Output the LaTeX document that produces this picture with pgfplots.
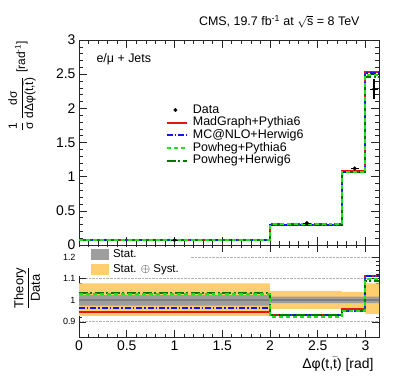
\documentclass[border=0pt]{standalone}
\usepackage{pgfplots}
\pgfplotsset{compat=1.18}
\usepackage{amsmath}
\usepackage{fontspec}
\setmainfont{Liberation Sans}
\definecolor{mgred}{RGB}{230,20,20}
\definecolor{mcblue}{RGB}{20,20,250}
\definecolor{ppgreen}{RGB}{30,225,30}
\definecolor{phgreen}{RGB}{0,120,0}
\definecolor{syst}{RGB}{255,206,110}
\definecolor{statgray}{RGB}{158,158,158}
\definecolor{statline}{RGB}{125,125,125}
\pgfplotsset{
  myline/.style={legend image code/.code={\draw[##1] (0bp,0bp) -- (20bp,0bp);}},
  mybox/.style={legend image code/.code={\fill[##1] (0bp,-5bp) rectangle (17bp,5bp);}},
  common/.style={
    scale only axis, width=300bp, xmin=0, xmax=3.14159,
    tick align=inside, tick pos=both,
    xtick={0,0.5,1,1.5,2,2.5,3}, minor x tick num=4,
    major tick length=8bp, minor tick length=4bp,
    axis line style={line width=0.7pt, black!85},
    every tick/.style={black!85, line width=0.6pt},
    /pgf/number format/assume math mode=true,
  },
  redline/.style={draw=mgred, color=mgred, line width=2bp, solid},
  blueline/.style={draw=mcblue, color=mcblue, line width=2bp, dash pattern=on 6pt off 2pt on 1.5pt off 2pt},
  lgreenline/.style={draw=ppgreen, color=ppgreen, line width=2bp, dash pattern=on 4pt off 3pt},
  dgreenline/.style={draw=phgreen, color=phgreen, line width=2bp, dash pattern=on 9pt off 2.5pt on 2pt off 2.5pt},
}
\begin{document}
\begin{tikzpicture}
\path[use as bounding box] (-79bp,-46bp) rectangle (320bp,337bp);

% ---------------- top panel ----------------
\begin{axis}[common,
  at={(0bp,92bp)}, anchor=south west, height=205bp,
  ymin=0, ymax=3, ytick={0,0.5,1,1.5,2,2.5,3}, minor y tick num=4,
  xticklabels={},
  yticklabel style={font=\fontsize{14}{14}\selectfont},
  legend style={at={(0.279,0.70)}, anchor=north west, draw=none, fill=none,
    font=\fontsize{12.5}{12.5}\selectfont,
    nodes={inner sep=0pt, text height=9.5bp, text depth=3.2bp},
    column sep=5bp, row sep=0pt},
  legend cell align=left,
]
\addplot[redline, const plot, forget plot] coordinates {(0,0.067) (2,0.299) (2.75,1.079) (3,2.525) (3.14159,2.525)};
\addplot[blueline, const plot, forget plot] coordinates {(0,0.0686) (2,0.299) (2.75,1.075) (3,2.52) (3.14159,2.52)};
\addplot[dgreenline, const plot, forget plot] coordinates {(0,0.0738) (2,0.302) (2.75,1.070) (3,2.46) (3.14159,2.46)};
\addplot[lgreenline, const plot, forget plot] coordinates {(0,0.0732) (2,0.300) (2.75,1.070) (3,2.49) (3.14159,2.49)};
\addplot[black, only marks, mark=*, mark size=1.8bp, forget plot,
  error bars/.cd, y dir=both, y explicit, x dir=both, x explicit, error mark=none,
  error bar style={line width=1.2pt, black}]
  coordinates {
  (1,0.071) +- (0.04,0.004)
  (2.386,0.320) +- (0.04,0.012)
  (2.888,1.120) +- (0.04,0.025)
  (3.09,2.280) +- (0.04,0.150)
  };
\addlegendimage{black, only marks, mark=*, mark size=1.8bp}
\addlegendentry{Data}
\addlegendimage{myline, redline}
\addlegendentry{MadGraph+Pythia6}
\addlegendimage{myline, blueline}
\addlegendentry{MC@NLO+Herwig6}
\addlegendimage{myline, lgreenline}
\addlegendentry{Powheg+Pythia6}
\addlegendimage{myline, dgreenline}
\addlegendentry{Powheg+Herwig6}
\end{axis}

% ---------------- ratio panel ----------------
\begin{axis}[common,
  at={(0bp,0bp)}, anchor=south west, height=92bp,
  ymin=0.83, ymax=1.255, ytick={0.9,1,1.1,1.2}, minor y tick num=4,
  major tick length=7bp, minor tick length=3.5bp,
  xticklabel style={font=\fontsize{14}{14}\selectfont},
  yticklabel style={font=\fontsize{9}{9}\selectfont},
  ymajorgrids, grid style={densely dotted, black!30, line width=0.7pt},
  legend style={at={(0.0,0.975)}, anchor=north west, draw=none, fill=white,
    font=\fontsize{11.5}{11.5}\selectfont,
    nodes={inner sep=0.5pt, text height=8.5bp, text depth=2.5bp},
    inner xsep=12bp, inner ysep=1pt,
    column sep=4bp, row sep=3bp},
  legend cell align=left,
]
\addplot[fill=syst, draw=none, forget plot] coordinates {
  (0,0.928) (0,1.078) (2,1.078) (2,1.043) (2.75,1.043) (2.75,1.037) (3,1.037) (3,1.078) (3.14159,1.078)
  (3.14159,0.937) (3,0.937) (3,0.963) (2.75,0.963) (2.75,0.960) (2,0.960) (2,0.928)} -- cycle;
\addplot[fill=statgray, draw=none, forget plot] coordinates {
  (0,0.975) (0,1.024) (2,1.024) (2,1.017) (3.14159,1.017) (3.14159,0.986) (2,0.986) (2,0.975)} -- cycle;
\addplot[statline, line width=1.8pt, forget plot] coordinates {(0,1) (3.14159,1)};
\addplot[redline, const plot, forget plot] coordinates {(0,0.946) (2,0.932) (2.75,0.960) (3,1.112) (3.14159,1.112)};
\addplot[blueline, const plot, forget plot] coordinates {(0,0.963) (2,0.932) (2.75,0.952) (3,1.112) (3.14159,1.112)};
\addplot[dgreenline, const plot, forget plot] coordinates {(0,1.035) (2,0.932) (2.75,0.952) (3,1.088) (3.14159,1.088)};
\addplot[lgreenline, const plot, forget plot] coordinates {(0,1.028) (2,0.922) (2.75,0.952) (3,1.097) (3.14159,1.097)};
\addlegendimage{mybox, statgray}
\addlegendentry{Stat.}
\addlegendimage{mybox, syst}
\addlegendentry{Stat. $\oplus$ Syst.}
\end{axis}

% ---------------- texts ----------------
\node[anchor=base east] at (284bp,311bp) {\fontsize{12.5}{12.5}\selectfont CMS, 19.7 fb\textsuperscript{-1} at $\sqrt{\text{s}}$ = 8 TeV};
\node[anchor=base west] at (14bp,274bp) {\fontsize{12.5}{12.5}\selectfont e/μ + Jets};
\node[rotate=90, anchor=east, inner sep=0pt] at (-57bp,296bp) {\fontsize{12}{12}\selectfont $\dfrac{\text{1}}{\text{σ}}\,\dfrac{\text{dσ}}{\text{dΔφ(t,}\bar{\text{t}}\text{)}}$\,\,[rad\textsuperscript{-1}]};
\node[rotate=90, anchor=center] at (-52bp,49bp) {\fontsize{13}{13}\selectfont $\dfrac{\text{Theory}}{\text{Data}}$};
\node[anchor=base east] at (298bp,-31bp) {\fontsize{14}{14}\selectfont Δφ(t,$\bar{\text{t}}$) [rad]};
\end{tikzpicture}
\end{document}
